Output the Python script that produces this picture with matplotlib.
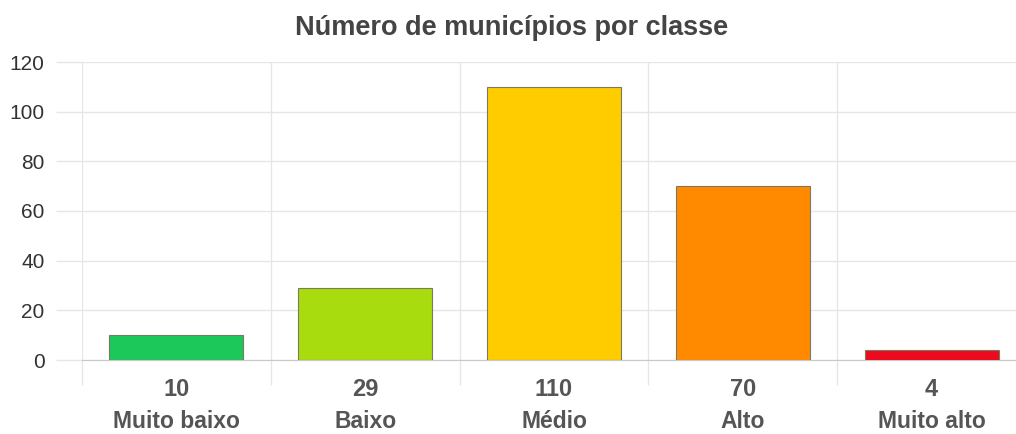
"""Bar chart: number of municipalities per class."""

import matplotlib
matplotlib.use("Agg")
import matplotlib.pyplot as plt
import matplotlib.transforms as mtransforms

classes = ["Muito baixo", "Baixo", "Médio", "Alto", "Muito alto"]
counts = [10, 29, 110, 70, 4]
colors = ["#1dc85a", "#a9dc0e", "#ffcc00", "#ff8a00", "#ee0a1e"]
y_ticks = [0, 20, 40, 60, 80, 100, 120]

plt.rcParams["font.family"] = ["Liberation Sans", "DejaVu Sans"]

fig = plt.figure(figsize=(10.16, 4.34), dpi=100)
# the plot area runs past the right edge, like the original widget
ax = fig.add_axes([82 / 1016, 74 / 434, 944 / 1016, 298 / 434])

x = list(range(len(classes)))
ax.bar(x, counts, width=0.71, color=colors, edgecolor="#7a7a60", linewidth=0.8, zorder=3)

ax.set_xlim(-0.5, len(classes) - 0.5)
ax.set_ylim(0, 120)
ax.set_yticks(y_ticks)
ax.set_yticklabels([str(t) for t in y_ticks], fontsize=15, color="#333333")

# grid lines on category boundaries, extending out as tick marks
ax.set_xticks([i - 0.5 for i in x])
ax.set_xticklabels([])
ax.grid(True, color="#e6e6e6", linewidth=1, zorder=0)
ax.tick_params(axis="x", length=18, color="#e6e6e6", width=1)
ax.tick_params(axis="y", length=19, color="#e6e6e6", width=1, pad=8)

for side in ["top", "right", "left"]:
    ax.spines[side].set_visible(False)
ax.spines["bottom"].set_color("#c8c8c8")

# value and class name under each bar
trans = mtransforms.blended_transform_factory(ax.transData, fig.transFigure)
for i, (name, n) in enumerate(zip(classes, counts)):
    ax.text(i, 1 - 396 / 434, str(n), transform=trans, ha="center", va="baseline",
            fontsize=17, fontweight="bold", color="#555555")
    ax.text(i, 1 - 428 / 434, name, transform=trans, ha="center", va="baseline",
            fontsize=16.5, fontweight="bold", color="#555555")

fig.text(512 / 1016, 1 - 35 / 434, "Número de municípios por classe", ha="center", va="baseline",
         fontsize=19.5, fontweight="bold", color="#444444")

fig.savefig("out.png", dpi=100)
